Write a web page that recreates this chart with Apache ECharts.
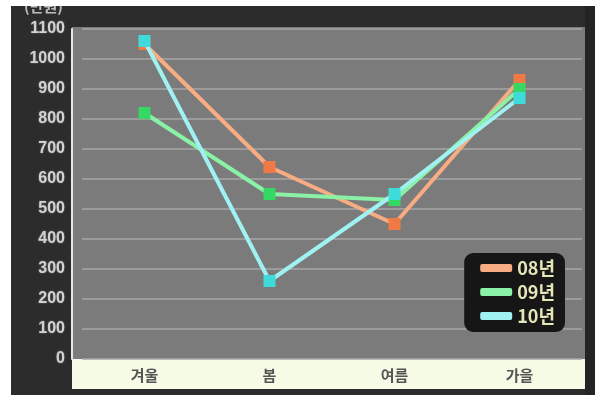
<!DOCTYPE html>
<html>
<head>
<meta charset="utf-8">
<script src="https://cdn.jsdelivr.net/npm/echarts@6/dist/echarts.min.js"></script>
<style>
  html, body { margin: 0; padding: 0; background: #ffffff; }
  #frame { position: absolute; left: 11px; top: 6px; width: 584px; height: 389px; background: #2c2c2c; }
  #chart { width: 584px; height: 389px; }
</style>
</head>
<body>
<div id="frame"><div id="chart"></div></div>
<script>
// Seasonal figures (unit: 만원) for three years
const seasons = ['겨울', '봄', '여름', '가을'];
const yearNames = ['08년', '09년', '10년'];
const values08 = [1050, 640, 450, 930];
const values09 = [820, 550, 530, 900];
const values10 = [1060, 260, 550, 870];
const yTicks = { min: 0, max: 1100, interval: 100 };

const lineColors = ['#f8ac82', '#8af2a6', '#a0f2f2'];
const markColors = ['#f07a45', '#34d862', '#3fdada'];
const seriesValues = [values08, values09, values10];

const chart = echarts.init(document.getElementById('chart'));

chart.setOption({
  animation: false,
  backgroundColor: 'transparent',
  title: {
    text: '(만원)',
    left: 8,
    top: -12,
    textStyle: { color: '#bdbdbd', fontSize: 15, fontWeight: 'bold', fontFamily: 'Noto Sans CJK KR' }
  },
  graphic: [
    // plot backdrop and category strip
    { type: 'rect', z: -10, shape: { x: 61, y: 21, width: 513, height: 332 }, style: { fill: '#7b7b7b' } },
    { type: 'rect', z: -10, shape: { x: 574, y: 0, width: 10, height: 389 }, style: { fill: '#242424' } },
    { type: 'rect', z: -10, shape: { x: 61, y: 353, width: 513, height: 30 }, style: { fill: '#f6fbe6' } }
  ],
  grid: { left: 71, right: 13, top: 23, bottom: 36 },
  legend: {
    orient: 'vertical',
    right: 30,
    top: 247,
    data: yearNames.map((n, i) => ({ name: n, itemStyle: { color: lineColors[i] } })),
    icon: 'roundRect',
    itemWidth: 32,
    itemHeight: 8,
    itemGap: 6,
    padding: [6, 10, 7, 16],
    backgroundColor: '#161616',
    borderRadius: 9,
    textStyle: { color: '#e6e6b8', fontSize: 18, fontFamily: 'Noto Sans CJK KR', fontWeight: 'bold', lineHeight: 18, padding: [0, 0, 0, 0] }
  },
  xAxis: {
    type: 'category',
    data: seasons,
    boundaryGap: true,
    axisLine: { show: false },
    axisTick: { show: false },
    axisLabel: { color: '#555555', fontSize: 15, fontWeight: 'bold', margin: 9, fontFamily: 'Noto Sans CJK KR' },
    splitLine: { show: false }
  },
  yAxis: {
    type: 'value',
    min: yTicks.min,
    max: yTicks.max,
    interval: yTicks.interval,
    offset: 10,
    axisLine: { show: true, lineStyle: { color: '#e6e6e6', width: 2 } },
    axisTick: { show: false },
    axisLabel: {
      formatter: v => String(v),
      color: '#d2d2d2', fontSize: 16, fontWeight: 'bold', margin: 7,
      fontFamily: 'Liberation Sans', textShadowColor: 'rgba(255,255,255,0.35)', textShadowBlur: 2
    },
    splitLine: { lineStyle: { color: '#a6a6a6', width: 1.5 } }
  },
  series: yearNames.map((name, i) => ({
    name: name,
    type: 'line',
    data: seriesValues[i],
    symbol: 'rect',
    symbolSize: 12,
    lineStyle: { color: lineColors[i], width: 4 },
    itemStyle: { color: markColors[i] },
    z: 2 + i
  }))
});
</script>
</body>
</html>
